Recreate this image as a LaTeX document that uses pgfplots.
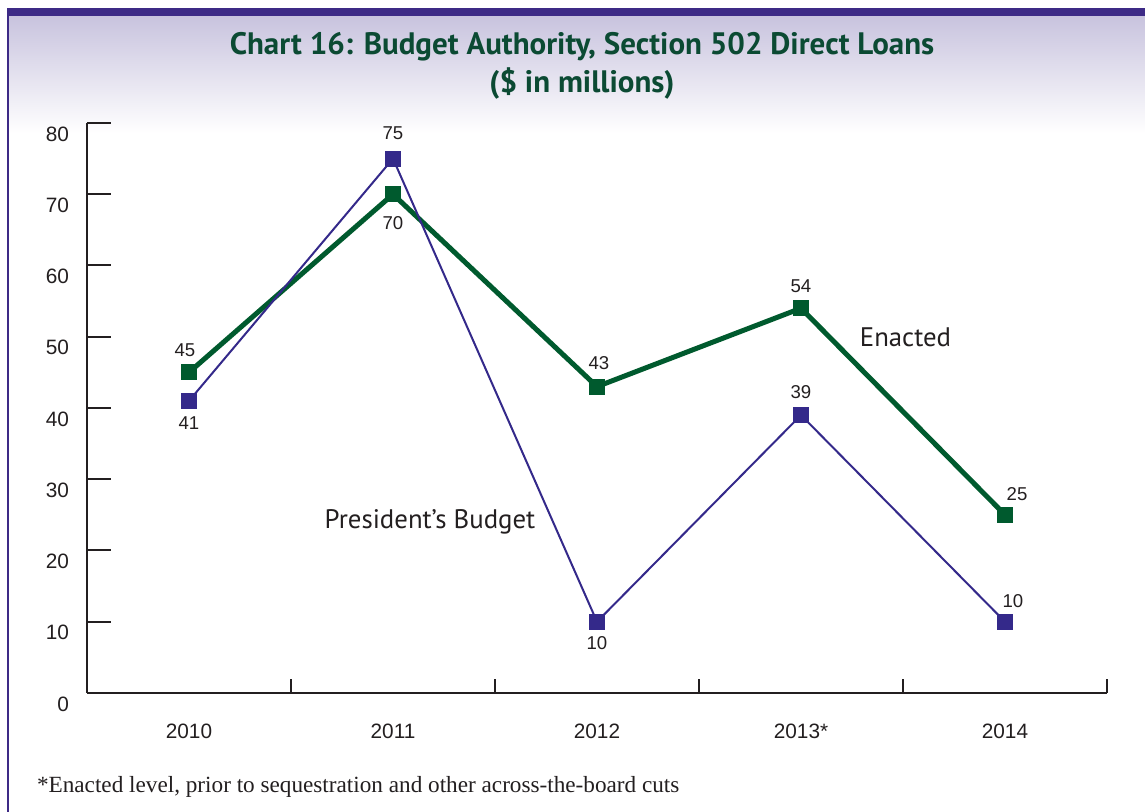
\documentclass[border=0pt]{standalone}
\usepackage{fontspec}
\setmainfont{Liberation Sans}
\newfontfamily\myriad{PT Sans}
\newfontfamily\garamond{Liberation Serif}
\usepackage{pgfplots}
\usepackage{pgfplotstable}
\pgfplotsset{compat=1.18}
\definecolor{framepurple}{HTML}{3D2A86}
\definecolor{gradtop}{HTML}{C8C3DE}
\definecolor{pbpurple}{HTML}{34298A}
\definecolor{enacgreen}{HTML}{005A2E}
\definecolor{titlegreen}{HTML}{0B4A33}
\definecolor{axisgray}{HTML}{231F20}

\pgfplotstableread{
x y dx dy
0 41 0 -11
1 75 0 12.5
2 10 0 -10.5
3 39 0 11.5
4 10 4 10.5
}\pbtable
\pgfplotstableread{
x y dx dy
0 45 -2 11
1 70 0 -14.5
2 43 1 12
3 54 0 11
4 25 6 10.5
}\entable

\begin{document}
\begin{tikzpicture}[x=1pt,y=1pt]
\useasboundingbox (0,0) rectangle (572.5,406);
\fill[white] (0,0) rectangle (572.5,406);
\shade[top color=gradtop, bottom color=white] (4.5,339.5) rectangle (572.5,398);
\fill[framepurple] (3.3,398) rectangle (572.5,402);
\fill[framepurple] (3.3,0) rectangle (4.6,402);
\node[font=\myriad\bfseries\fontsize{15.5}{19}\selectfont, text=titlegreen, align=center] at (291,373) {Chart 16: Budget Authority, Section 502 Direct Loans\\(\$ in millions)};
\begin{axis}[
  at={(43.5pt,59.5pt)}, anchor=south west,
  scale only axis, width=510pt, height=285pt,
  xmin=-0.5, xmax=4.5, ymin=0, ymax=80,
  axis x line=bottom, axis y line=left,
  axis line style={-, line width=1pt, draw=axisgray},
  xtick={0,...,4}, xticklabels={2010,2011,2012,2013*,2014},
  major x tick style={draw=none},
  minor xtick={-0.5,0.5,1.5,2.5,3.5,4.5},
  minor tick length=7pt,
  ytick={0,10,...,80},
  major tick length=12pt,
  tick align=inside,
  tick style={line width=1pt, draw=axisgray},
  /pgf/number format/assume math mode=true,
  yticklabel style={font=\fontsize{10.4}{12}\selectfont, text=axisgray, xshift=-5.5pt, yshift=-5.5pt},
  xticklabel style={font=\fontsize{10.4}{12}\selectfont, text=axisgray, yshift=-12pt},
  clip=false,
]
\addplot[enacgreen, line width=2.5pt, mark=square*, mark size=3.7pt,
  mark options={solid, line width=0pt, fill=enacgreen},
  point meta=y, nodes near coords,
  visualization depends on={\thisrow{dx} \as \dx},
  visualization depends on={\thisrow{dy} \as \dy},
  nodes near coords style={anchor=center, font=\fontsize{9.3}{11}\selectfont, text=axisgray, xshift=\dx pt, yshift=\dy pt}]
  table[x=x, y=y] {\entable};
\addplot[pbpurple, line width=1pt, mark=square*, mark size=3.7pt,
  mark options={solid, line width=0pt, fill=pbpurple},
  point meta=y, nodes near coords,
  visualization depends on={\thisrow{dx} \as \dx},
  visualization depends on={\thisrow{dy} \as \dy},
  nodes near coords style={anchor=center, font=\fontsize{9.3}{11}\selectfont, text=axisgray, xshift=\dx pt, yshift=\dy pt}]
  table[x=x, y=y] {\pbtable};
\end{axis}
\node[font=\myriad\fontsize{13.4}{15}\selectfont, text=axisgray] at (452.75,237.5) {Enacted};
\node[font=\myriad\fontsize{13.4}{15}\selectfont, text=axisgray] at (215,145) {President’s Budget};
\node[anchor=west, font=\garamond\fontsize{11.6}{13}\selectfont, text=axisgray] at (15,12.5) {*Enacted level, prior to sequestration and other across-the-board cuts};
\end{tikzpicture}
\end{document}
